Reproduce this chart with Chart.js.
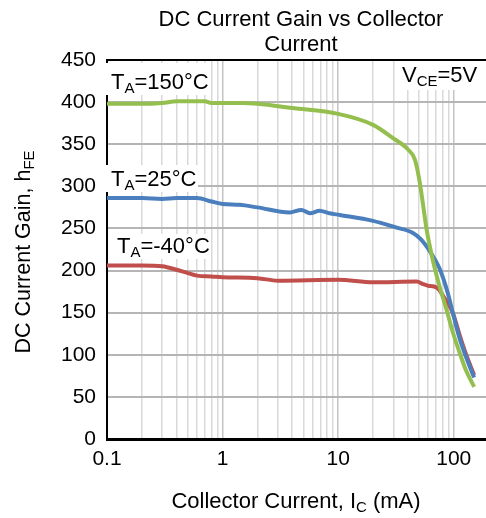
<!DOCTYPE html>
<html>
<head>
<meta charset="utf-8">
<script src="https://cdn.jsdelivr.net/npm/chart.js@4"></script>
<style>
  html, body { margin: 0; padding: 0; background: #fff; }
  #wrap { width: 486px; height: 518px; position: relative; }
</style>
</head>
<body>
<div id="wrap"><canvas id="c" width="486" height="518"></canvas></div>
<script>
// ---- data ----
const majorTicks = [0.1, 1, 10, 100];
const yTickValues = [0, 50, 100, 150, 200, 250, 300, 350, 400, 450];

const ic150 = [0.1, 0.2, 0.3, 0.4, 0.5, 0.7, 0.8, 1.0, 1.5, 2, 4, 10, 20, 30, 40, 46, 50, 54, 58, 64, 75, 86, 98, 112, 128, 150];
const hfe150 = [398, 398, 399, 401, 401, 401, 399, 399, 399, 398, 393, 386, 373, 357, 344, 332, 310, 280, 250, 220, 182, 155, 127, 103, 81, 62];

const ic25 = [0.1, 0.2, 0.3, 0.4, 0.6, 0.8, 1.0, 1.4, 2, 3.8, 4.8, 5.7, 6.9, 8.4, 10.3, 20, 32, 44, 52, 62, 75, 88, 98, 112, 128, 150];
const hfe25 = [286, 286, 285, 286, 286, 282, 279, 278, 275, 269, 272, 268, 271, 268, 266, 259, 251, 245, 237, 223, 203, 175, 150, 120, 97, 73];

const icM40 = [0.1, 0.2, 0.3, 0.4, 0.5, 0.6, 0.8, 1, 2, 3, 10, 20, 48, 54, 60, 71, 86, 98, 112, 128, 150];
const hfeM40 = [206, 206, 205, 201, 197, 194, 193, 192, 191, 188, 189, 186, 187, 184, 182, 180, 164, 150, 124, 100, 76];

const seriesNames = ['TA=150°C', 'TA=25°C', 'TA=-40°C'];

function pts(xs, ys) { return xs.map((x, i) => ({ x: x, y: ys[i] })); }

const FONT = '"Liberation Sans", Arial, sans-serif';

function drawParts(ctx, parts, x, y, size) {
  let cx = x;
  for (const [t, sub] of parts) {
    ctx.font = (sub ? Math.round(size * 0.68) : size) + 'px ' + FONT;
    ctx.fillText(t, cx, sub ? y + size * 0.2 : y);
    cx += ctx.measureText(t).width;
  }
  return cx - x;
}
function partsWidth(ctx, parts, size) {
  let w = 0;
  for (const [t, sub] of parts) {
    ctx.font = (sub ? Math.round(size * 0.68) : size) + 'px ' + FONT;
    w += ctx.measureText(t).width;
  }
  return w;
}

const labelBoxes = [
  { parts: [['T', false], ['A', true], ['=150°C', false]], x: 111, y: 89, box: [105, 63, 106, 32] },
  { parts: [['T', false], ['A', true], ['=25°C', false]], x: 111, y: 186, box: [105, 165, 93, 27] },
  { parts: [['T', false], ['A', true], ['=-40°C', false]], x: 117, y: 253, box: [111, 234, 98, 25] },
  { parts: [['V', false], ['CE', true], ['=5V', false]], x: 402, y: 82, box: [398, 61, 84, 29] }
];

const textPlugin = {
  id: 'texts',
  beforeDatasetsDraw(chart) {
    const ctx = chart.ctx;
    ctx.save();
    ctx.fillStyle = '#fff';
    for (const l of labelBoxes) ctx.fillRect(l.box[0], l.box[1], l.box[2], l.box[3]);
    ctx.restore();
  },
  afterDraw(chart) {
    const ctx = chart.ctx;
    const a = chart.chartArea;
    ctx.save();
    // top border
    ctx.strokeStyle = '#000';
    ctx.lineWidth = 2;
    ctx.beginPath();
    ctx.moveTo(a.left - 1, a.top);
    ctx.lineTo(a.right, a.top);
    ctx.stroke();

    ctx.fillStyle = '#000';
    ctx.textBaseline = 'alphabetic';
    // labels
    for (const l of labelBoxes) drawParts(ctx, l.parts, l.x, l.y, 22);

    // title
    ctx.font = '22px ' + FONT;
    ctx.textAlign = 'center';
    ctx.fillText('DC Current Gain vs Collector', 301, 26);
    ctx.fillText('Current', 301, 51);
    ctx.textAlign = 'left';

    // x axis title
    const xParts = [['Collector Current, I', false], ['C', true], [' (mA)', false]];
    const xw = partsWidth(ctx, xParts, 22);
    drawParts(ctx, xParts, 296 - xw / 2, 508, 22);

    // y axis title
    const yParts = [['DC Current Gain, h', false], ['FE', true]];
    const yw = partsWidth(ctx, yParts, 21.5);
    ctx.translate(30, 252);
    ctx.rotate(-Math.PI / 2);
    drawParts(ctx, yParts, -yw / 2, 0, 21.5);
    ctx.restore();
  }
};

const minorGrid = [];
for (const d of majorTicks) for (let k = 1; k <= 9; k++) {
  const v = +(d * k).toPrecision(6);
  if (v <= 100) minorGrid.push(v);
}

new Chart(document.getElementById('c'), {
  type: 'line',
  data: {
    datasets: [
      { label: seriesNames[0], data: pts(ic150, hfe150), borderColor: '#94bf4f', borderWidth: 4, pointRadius: 0, cubicInterpolationMode: 'monotone', fill: false },
      { label: seriesNames[1], data: pts(ic25, hfe25), borderColor: '#4a7ebd', borderWidth: 4, pointRadius: 0, cubicInterpolationMode: 'monotone', fill: false },
      { label: seriesNames[2], data: pts(icM40, hfeM40), borderColor: '#c04f4c', borderWidth: 4, pointRadius: 0, cubicInterpolationMode: 'monotone', fill: false }
    ]
  },
  options: {
    responsive: false,
    animation: false,
    devicePixelRatio: 1,
    layout: { padding: { top: 60, left: 0, right: 0, bottom: 0 } },
    plugins: { legend: { display: false }, title: { display: false }, tooltip: { enabled: false } },
    scales: {
      x: {
        type: 'logarithmic',
        min: 0.1,
        max: 190,
        afterBuildTicks(scale) { scale.ticks = minorGrid.map(v => ({ value: v, major: majorTicks.includes(v) })); },
        afterFit(scale) { scale.height = 79; scale.paddingRight = 0; scale.paddingLeft = 0; },
        ticks: {
          autoSkip: false,
          maxRotation: 0,
          padding: 8,
          color: '#000',
          font: { family: FONT, size: 21 },
          callback: (v) => majorTicks.includes(v) ? String(v) : ''
        },
        grid: {
          drawTicks: false,
          color: (c) => (c.tick && c.tick.major) ? '#c4c4c4' : '#d9d9d9',
          lineWidth: 1.5
        },
        border: { color: '#000', width: 3 }
      },
      y: {
        min: 0,
        max: 450,
        afterBuildTicks(scale) { scale.ticks = yTickValues.map(v => ({ value: v })); },
        afterFit(scale) { scale.width = 107; },
        ticks: { padding: 11, color: '#000', font: { family: FONT, size: 21 } },
        grid: { drawTicks: false, color: '#b5b5b5', lineWidth: 2 },
        border: { color: '#000', width: 2 }
      }
    }
  },
  plugins: [textPlugin]
});
</script>
</body>
</html>
